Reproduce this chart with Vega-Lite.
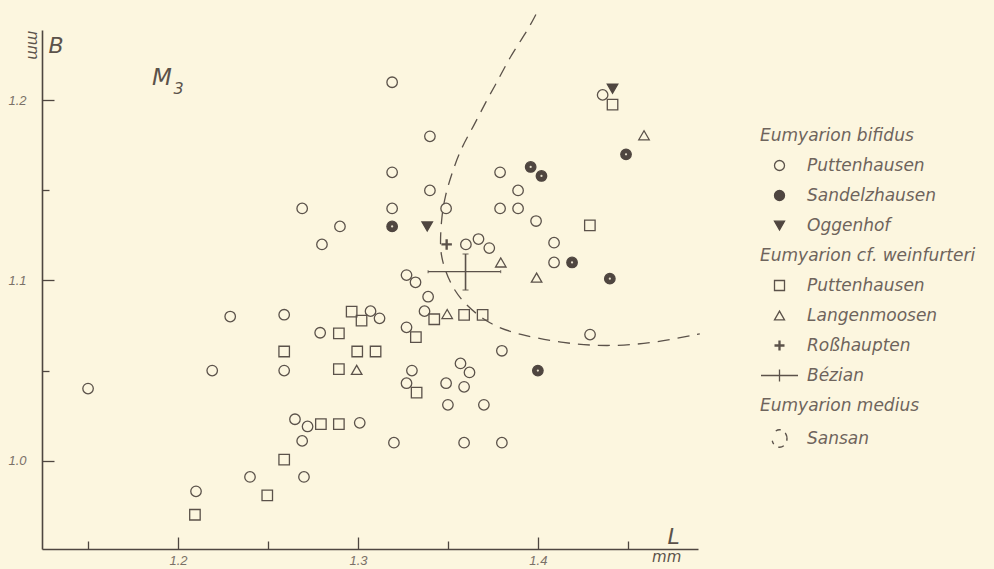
{
  "$schema": "https://vega.github.io/schema/vega-lite/v6.json",
  "width": 656,
  "height": 519,
  "autosize": {"type": "none"},
  "padding": {"left": 42, "top": 30, "right": 296, "bottom": 20},
  "background": "#fcf6df",
  "config": {"view": {"stroke": null}, "font": "DejaVu Sans"},
  "resolve": {"axis": {"x": "independent", "y": "independent"}},
  "datasets": {
    "points": [
      {"L": 1.319, "B": 1.210, "series": "bifidus Puttenhausen"},
      {"L": 1.340, "B": 1.180, "series": "bifidus Puttenhausen"},
      {"L": 1.319, "B": 1.160, "series": "bifidus Puttenhausen"},
      {"L": 1.379, "B": 1.160, "series": "bifidus Puttenhausen"},
      {"L": 1.340, "B": 1.150, "series": "bifidus Puttenhausen"},
      {"L": 1.389, "B": 1.150, "series": "bifidus Puttenhausen"},
      {"L": 1.319, "B": 1.140, "series": "bifidus Puttenhausen"},
      {"L": 1.349, "B": 1.140, "series": "bifidus Puttenhausen"},
      {"L": 1.379, "B": 1.140, "series": "bifidus Puttenhausen"},
      {"L": 1.389, "B": 1.140, "series": "bifidus Puttenhausen"},
      {"L": 1.290, "B": 1.130, "series": "bifidus Puttenhausen"},
      {"L": 1.399, "B": 1.133, "series": "bifidus Puttenhausen"},
      {"L": 1.409, "B": 1.121, "series": "bifidus Puttenhausen"},
      {"L": 1.409, "B": 1.110, "series": "bifidus Puttenhausen"},
      {"L": 1.360, "B": 1.120, "series": "bifidus Puttenhausen"},
      {"L": 1.367, "B": 1.123, "series": "bifidus Puttenhausen"},
      {"L": 1.373, "B": 1.118, "series": "bifidus Puttenhausen"},
      {"L": 1.327, "B": 1.103, "series": "bifidus Puttenhausen"},
      {"L": 1.332, "B": 1.099, "series": "bifidus Puttenhausen"},
      {"L": 1.436, "B": 1.203, "series": "bifidus Puttenhausen"},
      {"L": 1.269, "B": 1.140, "series": "bifidus Puttenhausen"},
      {"L": 1.280, "B": 1.120, "series": "bifidus Puttenhausen"},
      {"L": 1.229, "B": 1.080, "series": "bifidus Puttenhausen"},
      {"L": 1.259, "B": 1.081, "series": "bifidus Puttenhausen"},
      {"L": 1.279, "B": 1.071, "series": "bifidus Puttenhausen"},
      {"L": 1.259, "B": 1.050, "series": "bifidus Puttenhausen"},
      {"L": 1.219, "B": 1.050, "series": "bifidus Puttenhausen"},
      {"L": 1.150, "B": 1.040, "series": "bifidus Puttenhausen"},
      {"L": 1.265, "B": 1.023, "series": "bifidus Puttenhausen"},
      {"L": 1.272, "B": 1.019, "series": "bifidus Puttenhausen"},
      {"L": 1.269, "B": 1.011, "series": "bifidus Puttenhausen"},
      {"L": 1.240, "B": 0.991, "series": "bifidus Puttenhausen"},
      {"L": 1.270, "B": 0.991, "series": "bifidus Puttenhausen"},
      {"L": 1.210, "B": 0.983, "series": "bifidus Puttenhausen"},
      {"L": 1.307, "B": 1.083, "series": "bifidus Puttenhausen"},
      {"L": 1.312, "B": 1.079, "series": "bifidus Puttenhausen"},
      {"L": 1.301, "B": 1.021, "series": "bifidus Puttenhausen"},
      {"L": 1.320, "B": 1.010, "series": "bifidus Puttenhausen"},
      {"L": 1.359, "B": 1.010, "series": "bifidus Puttenhausen"},
      {"L": 1.380, "B": 1.010, "series": "bifidus Puttenhausen"},
      {"L": 1.339, "B": 1.091, "series": "bifidus Puttenhausen"},
      {"L": 1.337, "B": 1.083, "series": "bifidus Puttenhausen"},
      {"L": 1.327, "B": 1.074, "series": "bifidus Puttenhausen"},
      {"L": 1.429, "B": 1.070, "series": "bifidus Puttenhausen"},
      {"L": 1.380, "B": 1.061, "series": "bifidus Puttenhausen"},
      {"L": 1.330, "B": 1.050, "series": "bifidus Puttenhausen"},
      {"L": 1.357, "B": 1.054, "series": "bifidus Puttenhausen"},
      {"L": 1.362, "B": 1.049, "series": "bifidus Puttenhausen"},
      {"L": 1.327, "B": 1.043, "series": "bifidus Puttenhausen"},
      {"L": 1.349, "B": 1.043, "series": "bifidus Puttenhausen"},
      {"L": 1.359, "B": 1.041, "series": "bifidus Puttenhausen"},
      {"L": 1.350, "B": 1.031, "series": "bifidus Puttenhausen"},
      {"L": 1.370, "B": 1.031, "series": "bifidus Puttenhausen"},
      {"L": 1.396, "B": 1.163, "series": "Sandelzhausen"},
      {"L": 1.402, "B": 1.158, "series": "Sandelzhausen"},
      {"L": 1.319, "B": 1.130, "series": "Sandelzhausen"},
      {"L": 1.419, "B": 1.110, "series": "Sandelzhausen"},
      {"L": 1.440, "B": 1.101, "series": "Sandelzhausen"},
      {"L": 1.449, "B": 1.170, "series": "Sandelzhausen"},
      {"L": 1.400, "B": 1.050, "series": "Sandelzhausen"},
      {"L": 1.3385, "B": 1.130, "series": "Oggenhof"},
      {"L": 1.4415, "B": 1.2065, "series": "Oggenhof"},
      {"L": 1.4415, "B": 1.1976, "series": "weinfurteri Puttenhausen"},
      {"L": 1.4289, "B": 1.1306, "series": "weinfurteri Puttenhausen"},
      {"L": 1.2894, "B": 1.0707, "series": "weinfurteri Puttenhausen"},
      {"L": 1.259, "B": 1.0606, "series": "weinfurteri Puttenhausen"},
      {"L": 1.2894, "B": 1.0508, "series": "weinfurteri Puttenhausen"},
      {"L": 1.2794, "B": 1.0203, "series": "weinfurteri Puttenhausen"},
      {"L": 1.2894, "B": 1.0203, "series": "weinfurteri Puttenhausen"},
      {"L": 1.259, "B": 1.0006, "series": "weinfurteri Puttenhausen"},
      {"L": 1.2496, "B": 0.9808, "series": "weinfurteri Puttenhausen"},
      {"L": 1.2094, "B": 0.970, "series": "weinfurteri Puttenhausen"},
      {"L": 1.2965, "B": 1.0827, "series": "weinfurteri Puttenhausen"},
      {"L": 1.302, "B": 1.0777, "series": "weinfurteri Puttenhausen"},
      {"L": 1.2996, "B": 1.0606, "series": "weinfurteri Puttenhausen"},
      {"L": 1.3098, "B": 1.0606, "series": "weinfurteri Puttenhausen"},
      {"L": 1.3424, "B": 1.0785, "series": "weinfurteri Puttenhausen"},
      {"L": 1.359, "B": 1.0809, "series": "weinfurteri Puttenhausen"},
      {"L": 1.3693, "B": 1.0809, "series": "weinfurteri Puttenhausen"},
      {"L": 1.3322, "B": 1.0686, "series": "weinfurteri Puttenhausen"},
      {"L": 1.3326, "B": 1.0378, "series": "weinfurteri Puttenhausen"},
      {"L": 1.459, "B": 1.1806, "series": "Langenmoosen"},
      {"L": 1.3794, "B": 1.110, "series": "Langenmoosen"},
      {"L": 1.3993, "B": 1.1016, "series": "Langenmoosen"},
      {"L": 1.3496, "B": 1.0814, "series": "Langenmoosen"},
      {"L": 1.2993, "B": 1.0504, "series": "Langenmoosen"},
      {"L": 1.3493, "B": 1.120, "series": "Roßhaupten"}
    ],
    "sansan": [
      {"i": 1, "L": 1.3989, "B": 1.2476},
      {"i": 2, "L": 1.3937, "B": 1.2378},
      {"i": 3, "L": 1.3844, "B": 1.2240},
      {"i": 4, "L": 1.3779, "B": 1.2111},
      {"i": 5, "L": 1.3715, "B": 1.2000},
      {"i": 6, "L": 1.3641, "B": 1.1852},
      {"i": 7, "L": 1.3576, "B": 1.1741},
      {"i": 8, "L": 1.3521, "B": 1.1594},
      {"i": 9, "L": 1.3483, "B": 1.1464},
      {"i": 10, "L": 1.3465, "B": 1.1353},
      {"i": 11, "L": 1.3456, "B": 1.1206},
      {"i": 12, "L": 1.3465, "B": 1.1114},
      {"i": 13, "L": 1.3511, "B": 1.0984},
      {"i": 14, "L": 1.3585, "B": 1.0874},
      {"i": 15, "L": 1.3733, "B": 1.0753},
      {"i": 16, "L": 1.3900, "B": 1.0698},
      {"i": 17, "L": 1.4141, "B": 1.0652},
      {"i": 18, "L": 1.4382, "B": 1.0633},
      {"i": 19, "L": 1.4641, "B": 1.0652},
      {"i": 20, "L": 1.4900, "B": 1.0704}
    ],
    "bezian": [
      {"L": 1.3598, "B": 1.1049, "L_lo": 1.339, "L_hi": 1.3793, "B_lo": 1.0947, "B_hi": 1.1147}
    ]
  },
  "layer": [
    {
      "data": {"name": "sansan"},
      "mark": {"type": "line", "interpolate": "basis", "strokeDash": [12, 8], "color": "#5b524a", "strokeWidth": 1.3},
      "encoding": {
        "x": {
          "field": "L", "type": "quantitative",
          "scale": {"domain": [1.1244, 1.489], "nice": false, "zero": false},
          "axis": {
            "orient": "bottom",
            "values": [1.2, 1.3, 1.4],
            "format": ".1f",
            "ticks": false,
            "grid": false,
            "domainColor": "#4e4640", "domainWidth": 1.6,
            "labelFont": "Liberation Sans", "labelFontStyle": "italic", "labelFontSize": 13, "labelColor": "#7a7068",
            "labelPadding": 5,
            "title": "L", "titleFont": "DejaVu Sans", "titleFontSize": 22, "titleFontStyle": "italic", "titleFontWeight": "normal",
            "titleColor": "#5b524a", "titleAngle": 0, "titleAlign": "left", "titleBaseline": "alphabetic",
            "titleX": 625, "titleY": -6
          }
        },
        "y": {
          "field": "B", "type": "quantitative",
          "scale": {"domain": [0.951, 1.239], "nice": false, "zero": false},
          "axis": {
            "orient": "left",
            "values": [1.0, 1.1, 1.2],
            "format": ".1f",
            "ticks": false,
            "grid": false,
            "domainColor": "#4e4640", "domainWidth": 1.6,
            "labelFont": "Liberation Sans", "labelFontStyle": "italic", "labelFontSize": 13, "labelColor": "#7a7068",
            "labelPadding": 16,
            "title": "B", "titleFont": "DejaVu Sans", "titleFontSize": 22, "titleFontStyle": "italic", "titleFontWeight": "normal",
            "titleColor": "#5b524a", "titleAngle": 0, "titleAlign": "left", "titleBaseline": "alphabetic",
            "titleX": 6, "titleY": 22
          }
        },
        "order": {"field": "i", "type": "quantitative"}
      }
    },
    {
      "data": {"name": "bezian"},
      "mark": {"type": "rule", "color": "#5b524a", "strokeWidth": 1.3},
      "encoding": {
        "x": {
          "field": "L_lo", "type": "quantitative",
          "axis": {
            "orient": "top", "offset": -519, "title": null, "labels": false, "domain": false, "grid": false,
            "values": [1.15, 1.2, 1.25, 1.3, 1.35, 1.4, 1.45],
            "tickColor": "#4e4640", "tickWidth": 1.3,
            "tickSize": {"condition": {"test": "round(datum.value*100) % 10 == 0", "value": 12}, "value": 8}
          }
        },
        "x2": {"field": "L_hi"},
        "y": {
          "field": "B", "type": "quantitative",
          "axis": {
            "orient": "right", "offset": -656, "title": null, "labels": false, "domain": false, "grid": false,
            "values": [1.0, 1.05, 1.1, 1.15, 1.2],
            "tickColor": "#4e4640", "tickWidth": 1.3,
            "tickSize": {"condition": {"test": "round(datum.value*100) % 10 == 0", "value": 12}, "value": 7}
          }
        }
      }
    },
    {
      "data": {"name": "bezian"},
      "mark": {"type": "rule", "color": "#5b524a", "strokeWidth": 1.6},
      "encoding": {
        "x": {"field": "L", "type": "quantitative", "axis": null},
        "y": {"field": "B_lo", "type": "quantitative", "axis": null},
        "y2": {"field": "B_hi"}
      }
    },
    {
      "data": {"name": "bezian"},
      "transform": [{"fold": ["B_lo", "B_hi"], "as": ["end", "Bend"]}],
      "mark": {"type": "tick", "orient": "horizontal", "size": 6, "thickness": 1.3, "color": "#5b524a"},
      "encoding": {
        "x": {"field": "L", "type": "quantitative", "axis": null},
        "y": {"field": "Bend", "type": "quantitative", "axis": null}
      }
    },
    {
      "data": {"name": "bezian"},
      "transform": [{"fold": ["L_lo", "L_hi"], "as": ["end", "Lend"]}],
      "mark": {"type": "tick", "orient": "vertical", "size": 3, "thickness": 1.3, "color": "#5b524a"},
      "encoding": {
        "x": {"field": "Lend", "type": "quantitative", "axis": null},
        "y": {"field": "B", "type": "quantitative", "axis": null}
      }
    },
    {
      "data": {"name": "points"},
      "mark": {"type": "point", "size": 110, "strokeWidth": 1.3, "opacity": 1},
      "encoding": {
        "x": {"field": "L", "type": "quantitative", "axis": null},
        "y": {"field": "B", "type": "quantitative", "axis": null},
        "shape": {
          "field": "series", "type": "nominal",
          "scale": {
            "domain": ["Eumyarion bifidus", "bifidus Puttenhausen", "Sandelzhausen", "Oggenhof", "Eumyarion cf. weinfurteri", "weinfurteri Puttenhausen", "Langenmoosen", "Roßhaupten", "Bézian", "Eumyarion medius", "Sansan"],
            "range": ["M0,0", "circle", "circle", "triangle-down", "M0,0", "square", "triangle-up", "M-1,-0.1H1M-1,0.1H1M-0.1,-1V1M0.1,-1V1", "M-3.7,0H3.7M0,-1.2V1.2", "M0,0", "M-0.75,-1.516A1.5,1.75 0 0,1 0.26,-1.723M1.149,-1.125A1.5,1.75 0 0,1 1.449,0.453M0.86,1.434A1.5,1.75 0 0,1 -0.26,1.723M-1.149,1.125A1.5,1.75 0 0,1 -1.449,0.453"]
          },
          "legend": {
            "orient": "none", "legendX": 729, "legendY": 97, "title": null, "padding": 0,
            "symbolSize": 100, "symbolStrokeWidth": 1.3,
            "labelFont": "DejaVu Sans", "labelFontStyle": "italic", "labelFontSize": 17, "labelColor": "#6e645c",
            "labelOffset": 19, "labelLimit": 400, "rowPadding": 12,
            "labelExpr": "indexof(datum.value, 'Eumyarion') == 0 ? '\u00a0' : (indexof(datum.value, 'Puttenhausen') > 0 ? 'Puttenhausen' : datum.value)"
          }
        },
        "fill": {
          "field": "series", "type": "nominal",
          "scale": {
            "domain": ["Eumyarion bifidus", "bifidus Puttenhausen", "Sandelzhausen", "Oggenhof", "Eumyarion cf. weinfurteri", "weinfurteri Puttenhausen", "Langenmoosen", "Roßhaupten", "Bézian", "Eumyarion medius", "Sansan"],
            "range": ["transparent", "transparent", "#4f4640", "#4f4640", "transparent", "transparent", "transparent", "transparent", "transparent", "transparent", "transparent"]
          },
          "legend": {
            "orient": "none", "legendX": 729, "legendY": 97, "title": null, "padding": 0,
            "symbolSize": 100, "symbolStrokeWidth": 1.3,
            "labelFont": "DejaVu Sans", "labelFontStyle": "italic", "labelFontSize": 17, "labelColor": "#6e645c",
            "labelOffset": 19, "labelLimit": 400, "rowPadding": 12,
            "labelExpr": "indexof(datum.value, 'Eumyarion') == 0 ? '\u00a0' : (indexof(datum.value, 'Puttenhausen') > 0 ? 'Puttenhausen' : datum.value)"
          }
        },
        "stroke": {
          "field": "series", "type": "nominal",
          "scale": {
            "domain": ["Eumyarion bifidus", "bifidus Puttenhausen", "Sandelzhausen", "Oggenhof", "Eumyarion cf. weinfurteri", "weinfurteri Puttenhausen", "Langenmoosen", "Roßhaupten", "Bézian", "Eumyarion medius", "Sansan"],
            "range": ["transparent", "#5b524a", "#4f4640", "#4f4640", "transparent", "#5b524a", "#5b524a", "#5b524a", "#5b524a", "transparent", "#5b524a"]
          },
          "legend": {
            "orient": "none", "legendX": 729, "legendY": 97, "title": null, "padding": 0,
            "symbolSize": 100, "symbolStrokeWidth": 1.3,
            "labelFont": "DejaVu Sans", "labelFontStyle": "italic", "labelFontSize": 17, "labelColor": "#6e645c",
            "labelOffset": 19, "labelLimit": 400, "rowPadding": 12,
            "labelExpr": "indexof(datum.value, 'Eumyarion') == 0 ? '\u00a0' : (indexof(datum.value, 'Puttenhausen') > 0 ? 'Puttenhausen' : datum.value)"
          }
        }
      }
    },
    {
      "data": {"name": "points"},
      "transform": [{"filter": "datum.series == 'Sandelzhausen'"}],
      "mark": {"type": "point", "filled": true, "size": 5, "color": "#e6dfcc", "opacity": 1},
      "encoding": {
        "x": {"field": "L", "type": "quantitative", "axis": null},
        "y": {"field": "B", "type": "quantitative", "axis": null}
      }
    },
    {
      "data": {"values": [{"heading": "Eumyarion bifidus"}]},
      "mark": {"type": "point", "opacity": 0},
      "encoding": {
        "x": {"datum": 1.2, "type": "quantitative", "axis": null},
        "y": {"datum": 1.1, "type": "quantitative", "axis": null},
        "color": {
          "field": "heading", "type": "nominal",
          "scale": {
            "domain": ["Eumyarion bifidus", "h1", "h2", "h3", "Eumyarion cf. weinfurteri", "h5", "h6", "h7", "h8", "Eumyarion medius", "h10"],
            "range": ["transparent", "transparent", "transparent", "transparent", "transparent", "transparent", "transparent", "transparent", "transparent", "transparent", "transparent"]
          },
          "legend": {
            "orient": "none", "legendX": 701, "legendY": 97, "title": null, "padding": 0,
            "symbolSize": 100, "symbolOpacity": 0, "symbolType": "circle",
            "labelFont": "DejaVu Sans", "labelFontStyle": "italic", "labelFontSize": 17, "labelColor": "#6e645c",
            "labelOffset": 0, "labelLimit": 400, "rowPadding": 12,
            "labelExpr": "indexof(datum.value, 'Eumyarion') == 0 ? datum.value : '\u00a0'"
          }
        }
      }
    },
    {
      "data": {"values": [{}]},
      "mark": {"type": "text", "text": "M", "font": "DejaVu Sans", "fontSize": 23, "fontStyle": "italic", "align": "left", "baseline": "alphabetic", "color": "#5b524a"},
      "encoding": {"x": {"datum": 1.1855, "type": "quantitative", "axis": null}, "y": {"datum": 1.2085, "type": "quantitative", "axis": null}}
    },
    {
      "data": {"values": [{}]},
      "mark": {"type": "text", "text": "3", "font": "DejaVu Sans", "fontSize": 16, "fontStyle": "italic", "align": "left", "baseline": "alphabetic", "color": "#5b524a"},
      "encoding": {"x": {"datum": 1.1975, "type": "quantitative", "axis": null}, "y": {"datum": 1.2035, "type": "quantitative", "axis": null}}
    },
    {
      "data": {"values": [{}]},
      "mark": {"type": "text", "text": "mm", "font": "DejaVu Sans", "fontSize": 15, "fontStyle": "italic", "align": "center", "baseline": "middle", "angle": 90, "color": "#5b524a"},
      "encoding": {"x": {"datum": 1.1194, "type": "quantitative", "axis": null}, "y": {"datum": 1.2305, "type": "quantitative", "axis": null}}
    },
    {
      "data": {"values": [{}]},
      "mark": {"type": "text", "text": "mm", "font": "DejaVu Sans", "fontSize": 15, "fontStyle": "italic", "align": "center", "baseline": "middle", "color": "#5b524a"},
      "encoding": {"x": {"datum": 1.4716, "type": "quantitative", "axis": null}, "y": {"datum": 0.9465, "type": "quantitative", "axis": null}}
    }
  ]
}
